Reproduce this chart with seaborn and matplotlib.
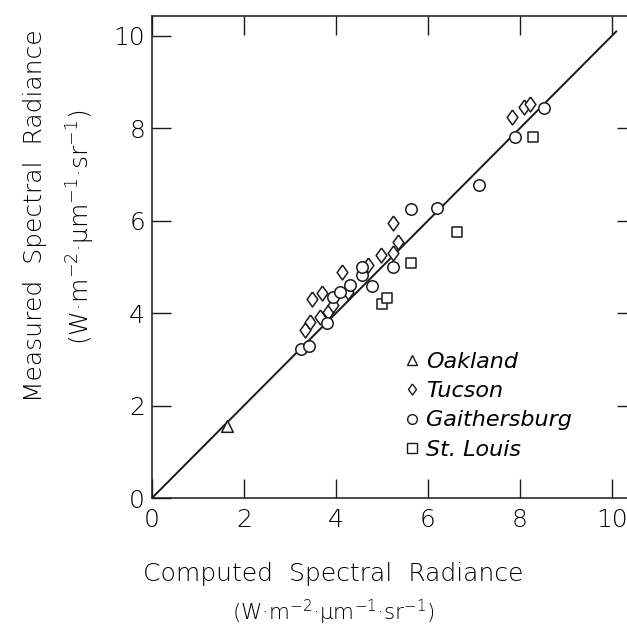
import matplotlib
matplotlib.use("Agg")
import matplotlib.pyplot as plt
from matplotlib.lines import Line2D
import seaborn as sns
import pandas as pd

# ---- data ----
oakland_x = [1.64]
oakland_y = [1.56]

tucson_x = [3.32, 3.43, 3.49, 3.69, 3.65, 3.82, 3.93, 4.13, 4.26, 4.69, 4.99, 5.24, 5.24, 5.35, 7.82, 8.08, 8.23]
tucson_y = [3.64, 3.81, 4.31, 4.44, 3.92, 4.03, 4.18, 4.89, 4.46, 5.04, 5.26, 5.30, 5.95, 5.54, 8.25, 8.46, 8.53]

gaith_x = [3.25, 3.41, 3.80, 3.93, 4.08, 4.30, 4.56, 4.56, 4.78, 5.24, 5.63, 6.20, 7.12, 7.90, 8.52]
gaith_y = [3.23, 3.29, 3.79, 4.35, 4.46, 4.61, 4.83, 5.00, 4.59, 5.00, 6.26, 6.28, 6.77, 7.81, 8.44]

stlouis_x = [5.00, 5.11, 5.63, 6.64, 8.28]
stlouis_y = [4.20, 4.33, 5.09, 5.76, 7.81]

sites = ["Oakland", "Tucson", "Gaithersburg", "St. Louis"]
line_x = [0.0, 10.1]
line_y = [0.0, 10.1]

x_ticks = [0, 2, 4, 6, 8, 10]
y_ticks = [0, 2, 4, 6, 8, 10]

rows = []
for name, xs, ys in [("Oakland", oakland_x, oakland_y), ("Tucson", tucson_x, tucson_y),
                     ("Gaithersburg", gaith_x, gaith_y), ("St. Louis", stlouis_x, stlouis_y)]:
    for a, b in zip(xs, ys):
        rows.append({"computed": a, "measured": b, "site": name})
df = pd.DataFrame(rows)

sns.set_style("ticks")
plt.rcParams["font.family"] = ["DejaVu Sans"]
plt.rcParams["font.weight"] = 200
plt.rcParams["mathtext.fontset"] = "custom"
plt.rcParams["mathtext.rm"] = "DejaVu Sans:weight=200"
plt.rcParams["mathtext.it"] = "DejaVu Sans:italic:weight=200"

ink = "#1a1a1a"
txt = "#000000"
fig = plt.figure(figsize=(6.27, 6.37), dpi=100)
ax = fig.add_axes([152 / 627, 1 - 498 / 637, (627 - 152) / 627, (498 - 16) / 637])

sns.lineplot(x=line_x, y=line_y, ax=ax, color=ink, lw=1.4, zorder=1)

diamond = [(0, 1), (0.72, 0), (0, -1), (-0.72, 0), (0, 1)]
markers = {"Oakland": "^", "Tucson": diamond, "Gaithersburg": "o", "St. Louis": "s"}
sizes = {"Oakland": 70, "Tucson": 115, "Gaithersburg": 68, "St. Louis": 55}
for s in sites:
    sub = df[df.site == s]
    sns.scatterplot(data=sub, x="computed", y="measured", marker=markers[s], s=sizes[s],
                    facecolor="white", edgecolor=ink, linewidth=1.1, ax=ax, zorder=3, legend=False)

ax.set_xlim(0, 10.33)
ax.set_ylim(0, 10.43)
ax.set_xticks(x_ticks)
ax.set_yticks(y_ticks)
ax.set_xticklabels([str(t) for t in x_ticks])
ax.set_yticklabels([str(t) for t in y_ticks])
ax.set_xlabel("")
ax.set_ylabel("")

for sp in ["left", "bottom", "top"]:
    ax.spines[sp].set_visible(True)
    ax.spines[sp].set_color(ink)
    ax.spines[sp].set_linewidth(1.1)
ax.spines["right"].set_visible(False)

ax.tick_params(axis="both", direction="in", length=14, width=1.0, color=ink,
               labelsize=18, labelcolor=txt, top=True, right=False)
ax.tick_params(axis="x", pad=7)
ax.tick_params(axis="y", pad=5)

ax2 = ax.twinx()
ax2.set_ylim(ax.get_ylim())
ax2.set_yticks([2, 4, 6, 8])
ax2.set_yticklabels([])
ax2.tick_params(axis="y", direction="in", length=7, width=1.0, color=ink)
for sp in ax2.spines.values():
    sp.set_visible(False)

handles = [Line2D([], [], ls="none", marker=markers[s], markersize=7 if s != "Tucson" else 8,
                  markerfacecolor="white", markeredgecolor=ink, markeredgewidth=1.0) for s in sites]
leg = ax.legend(handles, sites, loc="upper left", bbox_to_anchor=(0.493, 0.345), frameon=False,
                handlelength=0.5, handletextpad=0.4, labelspacing=0.42,
                prop={"size": 16, "style": "italic", "weight": 200})
for t in leg.get_texts():
    t.set_color(txt)

units = "(W·m$^{-2}$·μm$^{-1}$·sr$^{-1}$)"
fig.text(0.532, 0.099, "Computed  Spectral  Radiance", ha="center", va="center", fontsize=18, color=txt)
fig.text(0.531, 0.039, units, ha="center", va="center", fontsize=15.5, color=txt)
fig.text(0.056, 0.662, "Measured  Spectral  Radiance", ha="center", va="center", rotation=90,
         fontsize=18, color=txt)
fig.text(0.129, 0.643, units, ha="center", va="center", rotation=90, fontsize=18, color=txt)

fig.savefig("out.png", dpi=100, facecolor="white")
